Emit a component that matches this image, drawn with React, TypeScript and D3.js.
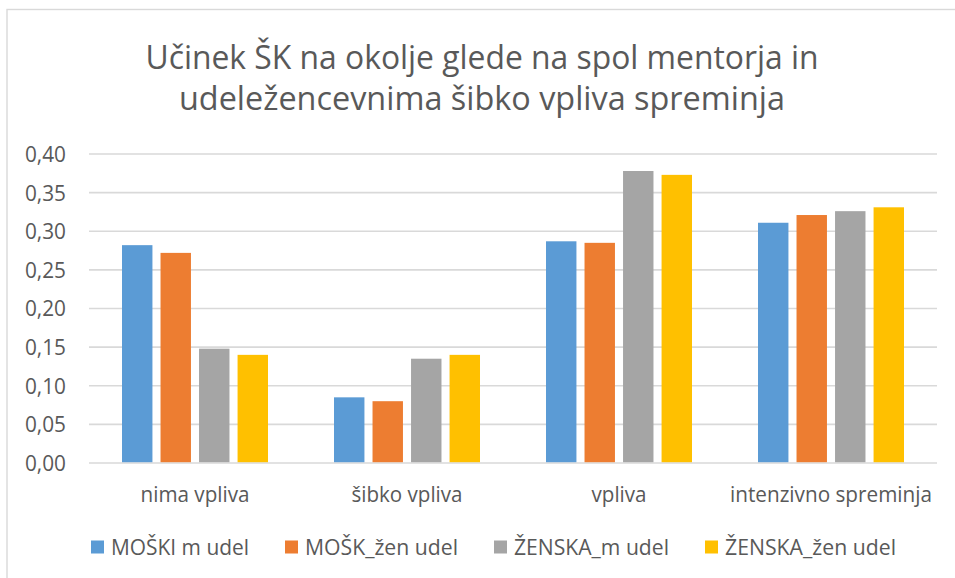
import React from "react";
import * as d3 from "d3";

const categories = ["nima vpliva", "šibko vpliva", "vpliva", "intenzivno spreminja"];
const seriesNames = ["MOŠKI m udel", "MOŠK_žen udel", "ŽENSKA_m udel", "ŽENSKA_žen udel"];
const moskiMUdel = [0.282, 0.085, 0.287, 0.311];
const moskZenUdel = [0.272, 0.080, 0.285, 0.321];
const zenskaMUdel = [0.148, 0.135, 0.378, 0.326];
const zenskaZenUdel = [0.140, 0.140, 0.373, 0.331];
const yTicks = [0, 0.05, 0.1, 0.15, 0.2, 0.25, 0.3, 0.35, 0.4];
const titleLines = ["Učinek ŠK na okolje glede na spol mentorja in", "udeležencevnima šibko vpliva spreminja"];

const seriesValues = [moskiMUdel, moskZenUdel, zenskaMUdel, zenskaZenUdel];
const colors = ["#5B9BD5", "#ED7D31", "#A5A5A5", "#FFC000"];

// layout
const W = 955;
const H = 578;
const plot = { left: 89, right: 937, top: 154, bottom: 463 };
const titleWidths = [673, 606];
const catLabelWidths = [109, 111, 55, 202];
const legendTextWidths = [138, 153, 155, 171];
const textColor = "#595959";
const font = "'Open Sans', 'DejaVu Sans', sans-serif";

const locale = d3.formatLocale({ decimal: ",", thousands: ".", grouping: [3], currency: ["", "€"] });
const fmt = locale.format(".2f");

export default function App() {
  const y = d3.scaleLinear().domain([0, 0.4]).range([plot.bottom, plot.top]);
  const x0 = d3.scaleBand<string>().domain(categories).range([plot.left, plot.right]).padding(0);
  const x1 = d3
    .scaleBand<string>()
    .domain(seriesNames)
    .range([33, x0.bandwidth() - 33])
    .paddingInner(0.21)
    .paddingOuter(0);

  // legend layout
  const legendItems: { sx: number; tx: number }[] = [];
  let lx = 91;
  legendTextWidths.forEach((tw) => {
    legendItems.push({ sx: lx, tx: lx + 20 });
    lx += 20 + tw + 36;
  });

  return (
    <svg
      width={W}
      height={H}
      style={{ position: "absolute", left: 0, top: 0, background: "#fff" }}
      fontFamily={font}
    >
      <rect x={7} y={9.5} width={W + 20} height={H + 20} fill="#fff" stroke="#D9D9D9" strokeWidth={1.4} />

      {titleLines.map((t, i) => (
        <text
          key={t}
          x={482}
          y={69 + i * 41}
          textAnchor="middle"
          fontSize={33}
          fill={textColor}
          textLength={titleWidths[i]}
          lengthAdjust="spacingAndGlyphs"
        >
          {t}
        </text>
      ))}

      {yTicks.map((t) => (
        <g key={t}>
          <line x1={plot.left} x2={plot.right} y1={y(t)} y2={y(t)} stroke="#D9D9D9" strokeWidth={1.6} />
          <text
            x={66}
            y={y(t)}
            dy="0.36em"
            textAnchor="end"
            fontSize={22}
            fill={textColor}
            textLength={41}
            lengthAdjust="spacingAndGlyphs"
          >
            {fmt(t)}
          </text>
        </g>
      ))}

      {categories.map((c, ci) => (
        <g key={c} transform={`translate(${x0(c)},0)`}>
          {seriesNames.map((s, si) => {
            const v = seriesValues[si][ci];
            return (
              <rect
                key={s}
                x={x1(s)}
                y={y(v)}
                width={x1.bandwidth()}
                height={y(0) - y(v) - 0.8}
                fill={colors[si]}
              />
            );
          })}
          <text
            x={x0.bandwidth() / 2}
            y={502}
            textAnchor="middle"
            fontSize={22}
            fill={textColor}
            textLength={catLabelWidths[ci]}
            lengthAdjust="spacingAndGlyphs"
          >
            {c}
          </text>
        </g>
      ))}

      {seriesNames.map((s, i) => (
        <g key={s}>
          <rect x={legendItems[i].sx} y={540.5} width={13} height={13} fill={colors[i]} />
          <text
            x={legendItems[i].tx}
            y={547}
            dy="0.36em"
            fontSize={22}
            fill={textColor}
            textLength={legendTextWidths[i]}
            lengthAdjust="spacingAndGlyphs"
          >
            {s}
          </text>
        </g>
      ))}
    </svg>
  );
}
